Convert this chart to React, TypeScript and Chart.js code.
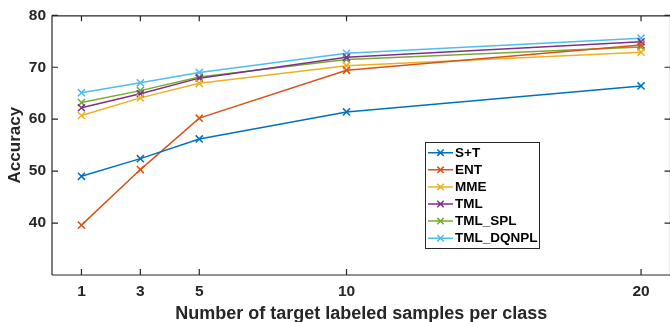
import React, { useEffect, useRef } from "react";
import { Chart, registerables } from "chart.js";

Chart.register(...registerables);

const xValues = [1, 3, 5, 10, 20];
const xTickValues = [1, 3, 5, 10, 20];
const yTickValues = [40, 50, 60, 70, 80];

const seriesNames = ["S+T", "ENT", "MME", "TML", "TML_SPL", "TML_DQNPL"];
const stValues = [49.0, 52.4, 56.2, 61.4, 66.4];
const entValues = [39.6, 50.3, 60.2, 69.4, 74.3];
const mmeValues = [60.7, 64.1, 66.9, 70.3, 72.9];
const tmlValues = [62.2, 64.9, 67.9, 71.9, 74.9];
const tmlSplValues = [63.2, 65.5, 68.1, 71.5, 73.9];
const dqnplValues = [65.1, 67.0, 69.0, 72.7, 75.6];

const seriesColors = ["#0072BD", "#D95319", "#EDB120", "#7E2F8E", "#77AC30", "#4DBEEE"];

const xTitle = "Number of target labeled samples per class";
const yTitle = "Accuracy";

const AXIS_COLOR = "#262626";
const FONT_FAMILY = "'Liberation Sans', Arial, sans-serif";

const boxPlugin = {
  id: "matlabBox",
  beforeDraw(chart: any) {
    const { ctx, width, height } = chart;
    ctx.save();
    ctx.fillStyle = "#ffffff";
    ctx.fillRect(0, 0, width, height);
    ctx.restore();
  },
  afterDatasetsDraw(chart: any) {
    const { ctx, chartArea } = chart;
    const { left, right, top, bottom } = chartArea;
    const xs = chart.scales.x;
    const ys = chart.scales.y;
    ctx.save();
    ctx.strokeStyle = AXIS_COLOR;
    ctx.lineWidth = 1.2;
    ctx.beginPath();
    ctx.moveTo(left, top + 0.5);
    ctx.lineTo(right, top + 0.5);
    ctx.moveTo(left, bottom);
    ctx.lineTo(right, bottom);
    ctx.moveTo(left, top);
    ctx.lineTo(left, bottom);
    ctx.moveTo(right, top);
    ctx.lineTo(right, bottom);
    const tl = 6;
    xTickValues.forEach((v) => {
      const px = xs.getPixelForValue(v);
      ctx.moveTo(px, bottom);
      ctx.lineTo(px, bottom - tl);
      ctx.moveTo(px, top);
      ctx.lineTo(px, top + tl);
    });
    yTickValues.forEach((v) => {
      const py = ys.getPixelForValue(v);
      ctx.moveTo(left, py);
      ctx.lineTo(left + tl, py);
      ctx.moveTo(right, py);
      ctx.lineTo(right - tl, py);
    });
    ctx.stroke();

    // x axis title, centred on the axes box
    ctx.fillStyle = AXIS_COLOR;
    ctx.font = `bold 18px ${FONT_FAMILY}`;
    ctx.textAlign = "center";
    ctx.textBaseline = "alphabetic";
    ctx.fillText(xTitle, (left + right) / 2, 319);
    ctx.restore();
  },
  afterDraw(chart: any) {
    const { ctx } = chart;
    const bx = 425.5;
    const by = 142.5;
    const bw = 114;
    const bh = 106;
    ctx.save();
    ctx.fillStyle = "#ffffff";
    ctx.fillRect(bx, by, bw, bh);
    ctx.strokeStyle = AXIS_COLOR;
    ctx.lineWidth = 1;
    ctx.strokeRect(bx, by, bw, bh);
    const rowStart = 152.7;
    const rowGap = 17.1;
    ctx.font = `bold 13.5px ${FONT_FAMILY}`;
    ctx.textBaseline = "middle";
    ctx.textAlign = "left";
    seriesNames.forEach((name, i) => {
      const y = rowStart + i * rowGap;
      const c = seriesColors[i];
      ctx.strokeStyle = c;
      ctx.lineWidth = 1.5;
      ctx.beginPath();
      ctx.moveTo(428, y);
      ctx.lineTo(453, y);
      const cx = 440.5;
      const d = 3.2;
      ctx.moveTo(cx - d, y - d);
      ctx.lineTo(cx + d, y + d);
      ctx.moveTo(cx - d, y + d);
      ctx.lineTo(cx + d, y - d);
      ctx.stroke();
      ctx.fillStyle = "#000000";
      ctx.fillText(name, 455, y + 0.5);
    });
    ctx.restore();
  },
};

export default function App() {
  const canvasRef = useRef<HTMLCanvasElement | null>(null);

  useEffect(() => {
    if (!canvasRef.current) return;
    const allValues = [stValues, entValues, mmeValues, tmlValues, tmlSplValues, dqnplValues];
    const datasets = allValues.map((vals, i) => ({
      label: seriesNames[i],
      data: xValues.map((x, j) => ({ x, y: vals[j] })),
      borderColor: seriesColors[i],
      backgroundColor: seriesColors[i],
      borderWidth: 1.5,
      pointStyle: "crossRot" as const,
      pointRadius: 5,
      pointBorderWidth: 1.5,
      pointBorderColor: seriesColors[i],
      pointHoverRadius: 5,
      tension: 0,
      fill: false,
    }));

    const chart = new Chart(canvasRef.current, {
      type: "line",
      data: { datasets },
      plugins: [boxPlugin],
      options: {
        animation: false,
        responsive: false,
        devicePixelRatio: 1,
        events: [],
        layout: { padding: { left: 0, right: 1, top: 14, bottom: 0 } },
        plugins: {
          legend: { display: false },
          tooltip: { enabled: false },
          title: { display: false },
        },
        scales: {
          x: {
            type: "linear",
            min: 0,
            max: 21,
            afterBuildTicks: (scale: any) => {
              scale.ticks = xTickValues.map((v) => ({ value: v }));
            },
            afterFit: (scale: any) => {
              scale.height = 47;
            },
            grid: { display: false, drawTicks: false },
            border: { display: false },
            ticks: {
              padding: 7,
              color: AXIS_COLOR,
              font: { family: FONT_FAMILY, size: 15.5, weight: "bold" },
              maxRotation: 0,
              autoSkip: false,
            },
            title: { display: false },
          },
          y: {
            type: "linear",
            min: 30,
            max: 80,
            afterBuildTicks: (scale: any) => {
              scale.ticks = yTickValues.map((v) => ({ value: v }));
            },
            afterFit: (scale: any) => {
              scale.width = 52;
            },
            grid: { display: false, drawTicks: false },
            border: { display: false },
            ticks: {
              padding: 6,
              color: AXIS_COLOR,
              font: { family: FONT_FAMILY, size: 15.5, weight: "bold" },
              autoSkip: false,
            },
            title: {
              display: true,
              text: yTitle,
              color: AXIS_COLOR,
              font: { family: FONT_FAMILY, size: 17, weight: "bold" },
              padding: { top: 5, bottom: 0 },
            },
          },
        },
      } as any,
    });
    return () => chart.destroy();
  }, []);

  return (
    <div
      style={{
        position: "fixed",
        left: 0,
        top: 0,
        width: 670,
        height: 322,
        overflow: "hidden",
        background: "#ffffff",
      }}
    >
      <canvas ref={canvasRef} width={677} height={322} style={{ display: "block" }} />
    </div>
  );
}
